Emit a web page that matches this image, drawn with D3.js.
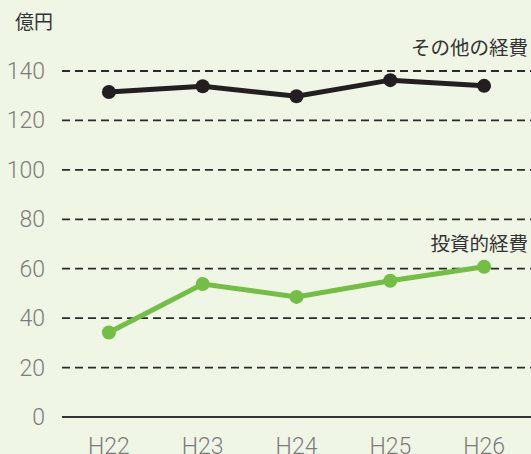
<!DOCTYPE html>
<html>
<head>
<meta charset="utf-8">
<script src="https://cdn.jsdelivr.net/npm/d3@7"></script>
<style>
  body { margin: 0; background: #eff6e5; }
  svg { display: block; }
</style>
</head>
<body>
<div id="chart"></div>
<script>
// データ
var years = ["H22", "H23", "H24", "H25", "H26"];
var otherCosts = [131.5, 133.8, 129.8, 136.3, 134.0];   // その他の経費
var investCosts = [34.2, 53.8, 48.6, 55.1, 60.8];      // 投資的経費
var yTicks = [0, 20, 40, 60, 80, 100, 120, 140];

var W = 531, H = 454;
var margin = {top: 71, right: 0, bottom: 37, left: 62};

var svg = d3.select("#chart").append("svg")
  .attr("width", W)
  .attr("height", H);

svg.append("rect").attr("width", W).attr("height", H).attr("fill", "#eff6e5");

var x = d3.scalePoint()
  .domain(years)
  .range([margin.left, W - margin.right])
  .padding(0.5);

var y = d3.scaleLinear()
  .domain([0, 140])
  .range([H - margin.bottom, margin.top]);

// グリッド線（点線）
svg.append("g")
  .selectAll("line")
  .data(yTicks.filter(d => d > 0))
  .enter().append("line")
  .attr("x1", margin.left)
  .attr("x2", W)
  .attr("y1", d => y(d))
  .attr("y2", d => y(d))
  .attr("stroke", "#2b2b2b")
  .attr("stroke-width", 1.8)
  .attr("stroke-dasharray", "8,5");

// 基準線
svg.append("line")
  .attr("x1", margin.left)
  .attr("x2", W)
  .attr("y1", y(0))
  .attr("y2", y(0))
  .attr("stroke", "#333")
  .attr("stroke-width", 2);

// Y軸ラベル
svg.append("g")
  .selectAll("text")
  .data(yTicks)
  .enter().append("text")
  .attr("x", 45)
  .attr("y", d => y(d))
  .attr("dy", "0.35em")
  .attr("text-anchor", "end")
  .style("font-family", "Roboto, 'Liberation Sans', sans-serif")
  .style("font-weight", 300)
  .style("font-size", "23px")
  .attr("fill", "#7c7c7c")
  .text(d => d);

// X軸ラベル
svg.append("g")
  .selectAll("text")
  .data(years)
  .enter().append("text")
  .attr("x", d => x(d))
  .attr("y", 454)
  .attr("text-anchor", "middle")
  .style("font-family", "Roboto, 'Liberation Sans', sans-serif")
  .style("font-weight", 300)
  .style("font-size", "23px")
  .attr("fill", "#7c7c7c")
  .text(d => d);

// 単位
svg.append("text")
  .attr("x", 15)
  .attr("y", 29)
  .style("font-family", "'Noto Sans CJK JP', sans-serif")
  .style("font-size", "19px")
  .attr("fill", "#333")
  .text("億円");

var line = d3.line()
  .x((d, i) => x(years[i]))
  .y(d => y(d));

function drawSeries(values, color) {
  svg.append("path")
    .datum(values)
    .attr("fill", "none")
    .attr("stroke", color)
    .attr("stroke-width", 5)
    .attr("d", line);

  svg.append("g")
    .selectAll("circle")
    .data(values)
    .enter().append("circle")
    .attr("cx", (d, i) => x(years[i]))
    .attr("cy", d => y(d))
    .attr("r", 7)
    .attr("fill", color);
}

drawSeries(otherCosts, "#231f20");
drawSeries(investCosts, "#72bf44");

// 系列名
svg.append("text")
  .attr("x", 528)
  .attr("y", 55)
  .attr("text-anchor", "end")
  .style("font-family", "'Noto Sans CJK JP', sans-serif")
  .style("font-size", "19.5px")
  .attr("fill", "#333")
  .text("その他の経費");

svg.append("text")
  .attr("x", 528)
  .attr("y", 251)
  .attr("text-anchor", "end")
  .style("font-family", "'Noto Sans CJK JP', sans-serif")
  .style("font-size", "19.5px")
  .attr("fill", "#333")
  .text("投資的経費");
</script>
</body>
</html>
